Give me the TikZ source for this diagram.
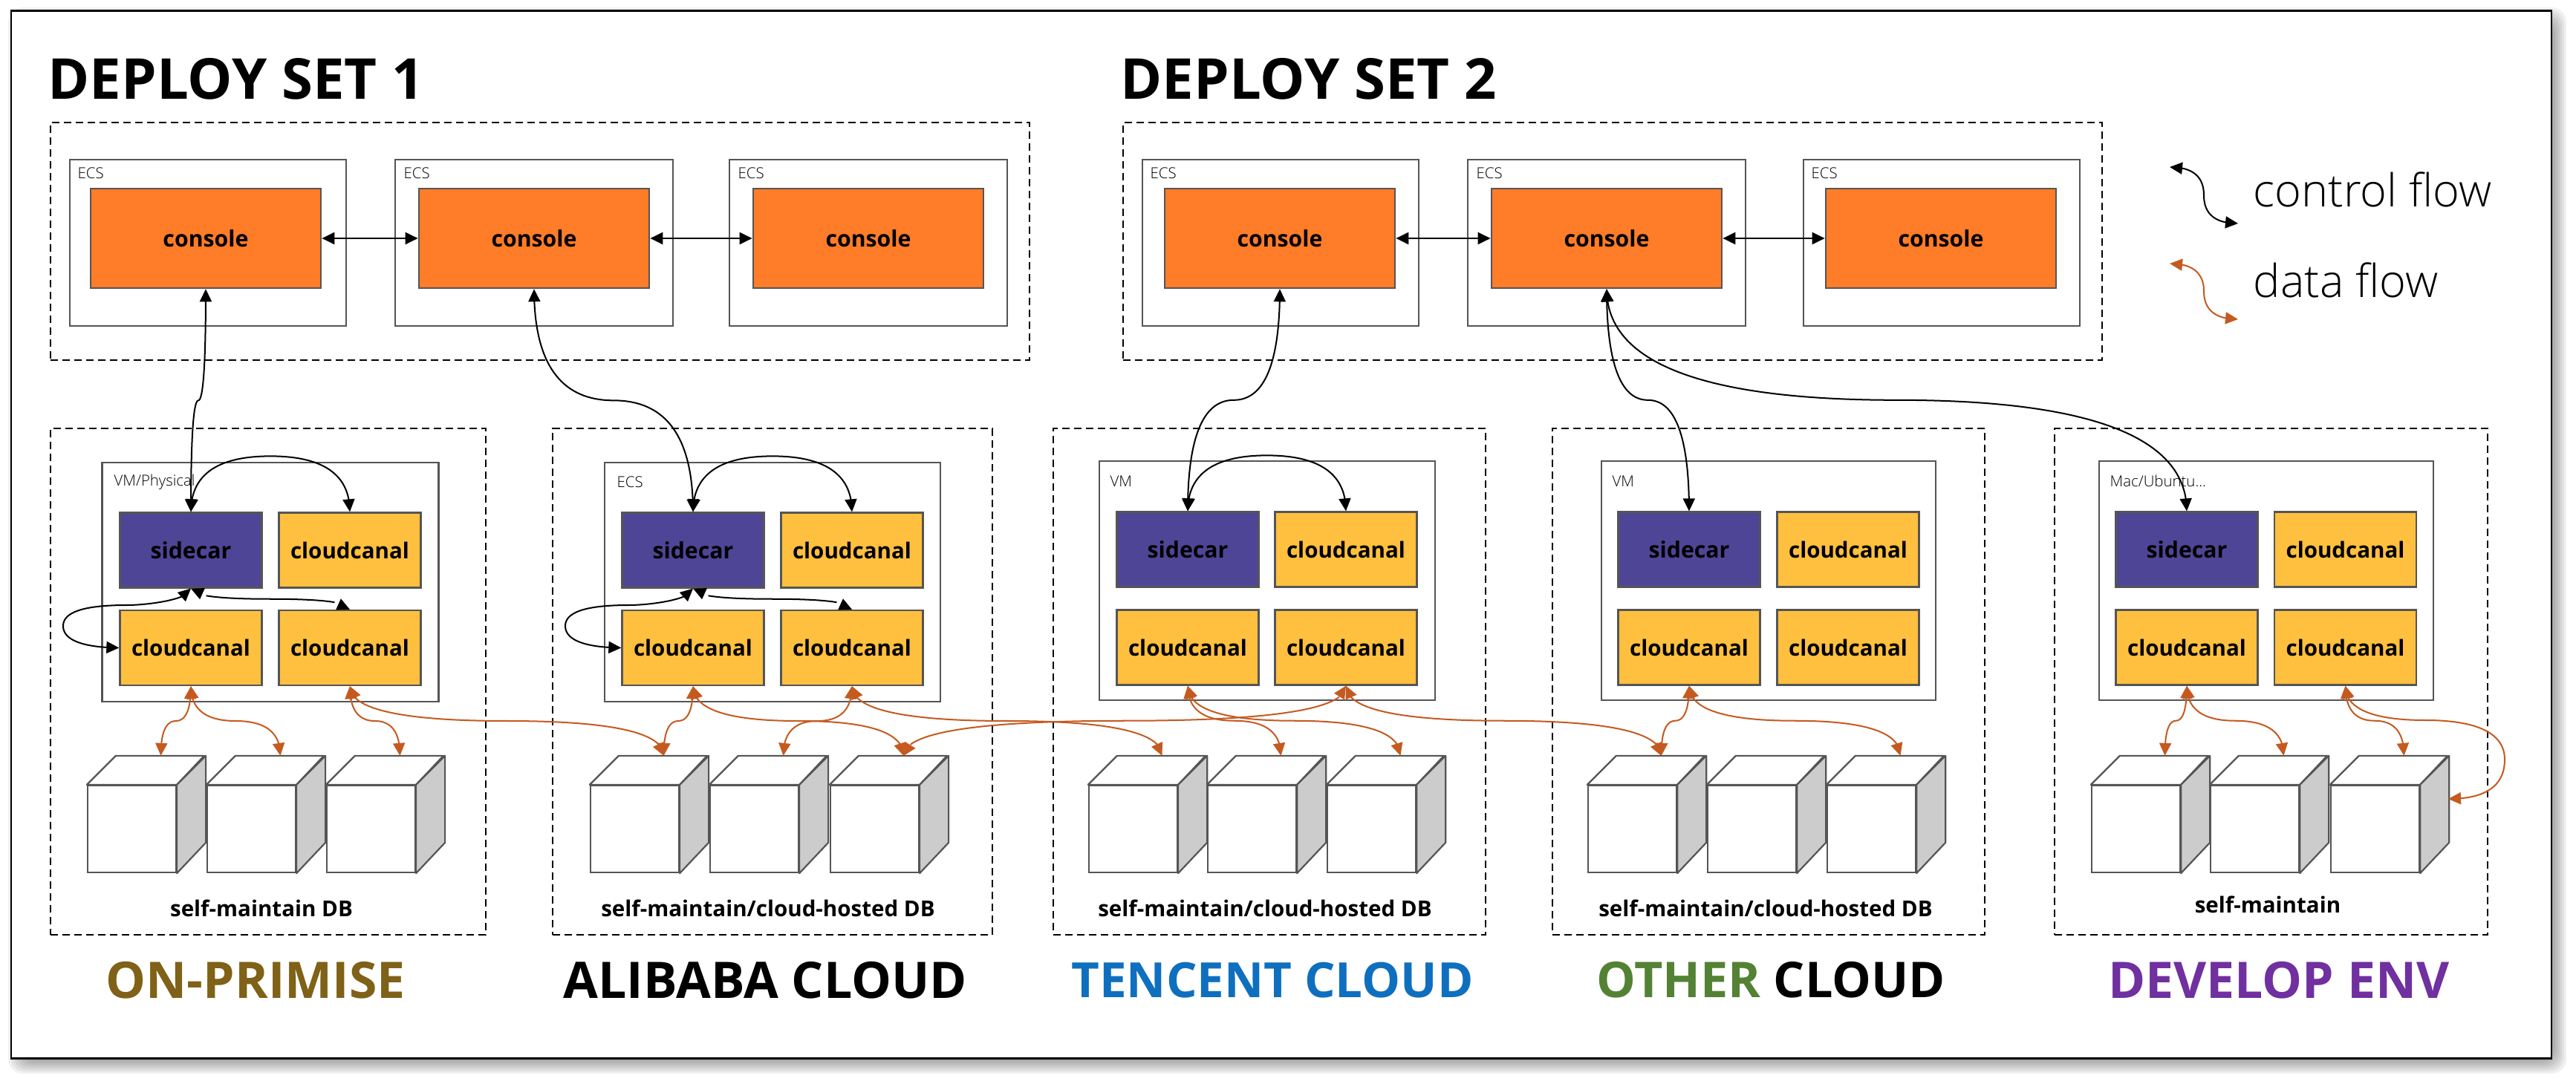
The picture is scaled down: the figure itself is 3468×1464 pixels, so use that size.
\documentclass[tikz,border=0pt]{standalone}
\usepackage{fontspec}
\setmainfont{Open Sans}
\newfontfamily\lightfont{Open Sans Light}
\usetikzlibrary{arrows.meta, bending, calc, positioning}

\definecolor{consoleorange}{HTML}{FF7C29}
\definecolor{canalyellow}{HTML}{FFC03F}
\definecolor{sidecarpurple}{HTML}{4F4596}
\definecolor{edgegray}{HTML}{555555}
\definecolor{dbside}{HTML}{CCCCCC}
\definecolor{dataorange}{HTML}{C55A20}
\definecolor{primisebrown}{HTML}{7F6117}
\definecolor{tencentblue}{HTML}{0F6FBF}
\definecolor{othergreen}{HTML}{548235}
\definecolor{developpurple}{HTML}{7030A0}

\tikzstyle{dashbox}  = [rectangle, draw=black, dash pattern=on .1cm off .06cm, line width=.02cm, inner sep=0pt]
\tikzstyle{hostbox}  = [rectangle, draw=edgegray, line width=.025cm, fill=white, inner sep=0pt]
\tikzstyle{console}  = [rectangle, draw=edgegray, line width=.025cm, fill=consoleorange,
                         minimum width=3.1cm, minimum height=1.34cm, font=\fontsize{8.6}{11}\selectfont\bfseries]
\tikzstyle{sidecar}  = [rectangle, draw=edgegray, line width=.022cm, fill=sidecarpurple,
                         minimum width=1.91cm, minimum height=1.01cm, font=\fontsize{8.6}{11}\selectfont\bfseries]
\tikzstyle{canal}    = [rectangle, draw=edgegray, line width=.022cm, fill=canalyellow,
                         minimum width=1.91cm, minimum height=1.01cm, font=\fontsize{8.4}{11}\selectfont\bfseries]
\tikzstyle{dbfront}  = [rectangle, draw=edgegray, line width=.022cm, fill=white,
                         minimum width=1.19cm, minimum height=1.17cm, inner sep=0pt]
\tikzstyle{dbedge}   = [draw=edgegray, line width=.022cm, line join=round]
\tikzstyle{hostname} = [anchor=west, inner sep=0pt, font=\lightfont\fontsize{5.8}{7}\selectfont]
\tikzstyle{dbname}   = [inner sep=0pt, font=\fontsize{8.4}{10}\selectfont\bfseries]
\tikzstyle{title}    = [anchor=west, inner sep=0pt, font=\fontsize{21.6}{26}\selectfont\bfseries]
\tikzstyle{cloudname}= [inner sep=0pt, font=\fontsize{19.3}{23}\selectfont\bfseries]
\tikzstyle{legend}   = [anchor=west, inner sep=0pt, font=\lightfont\fontsize{17.4}{21}\selectfont]
\tikzstyle{peer}     = [{Triangle[length=.17cm,width=.16cm]}-{Triangle[length=.17cm,width=.16cm]}, line width=.024cm]
\tikzstyle{ctrlflow} = [{Triangle[length=.17cm,width=.16cm]}-{Triangle[length=.17cm,width=.16cm]}, line width=.02cm]
\tikzstyle{dataflow} = [{Triangle[length=.17cm,width=.16cm]}-{Triangle[length=.17cm,width=.16cm]},
                         line width=.02cm, color=dataorange]

% vertical out, through the middle, vertical in; the argument lifts the middle
\tikzset{scurve/.style={to path={let \p1=(\tikztostart), \p2=(\tikztotarget),
      \p3=($(\p1)!0.5!(\p2)+(0,#1)$) in
      .. controls (\x1,{\y1+0.667*(\y3-\y1)}) and ({\x3+0.667*(\x1-\x3)},\y3) .. (\p3)
      .. controls ({\x3+0.667*(\x2-\x3)},\y3) and (\x2,{\y2+0.667*(\y3-\y2)}) .. (\tikztotarget)}},
  scurve/.default=0}

\newcommand{\dbcube}[2]{
  \node[dbfront] (#1) at (#2+59.5,1116.5) {};
  \draw[dbedge, fill=white] (#1.north west) -- ++(39,-39) -- ++(119,0) -- (#1.north east) -- cycle;
  \draw[dbedge, fill=dbside] (#1.north east) -- ++(39,-39) -- ++(0,117) -- (#1.south east) -- cycle;
  \coordinate (#1t) at ($(#1.north)+(39,-39)$);
}

\begin{document}
\begin{tikzpicture}[x=.01cm, y=-.01cm]
  \useasboundingbox (0,0) rectangle (3468,1464);

  % sheet
  \foreach \s in {-14,-11,...,13}
    \fill[black, opacity=.06, rounded corners=.2cm] ({24-\s},{23-\s}) rectangle ({3442+\s},{1433+\s});
  \node[rectangle, draw=black, line width=.024cm, fill=white, minimum width=34.18cm, minimum height=14.1cm, inner sep=0pt]
    (sheet) at (1725,720) {};

  % deploy sets
  \node[title] (set1) at (64,106) {DEPLOY SET 1};
  \node[title] (set2) at (1508,106) {DEPLOY SET 2};
  \node[dashbox, minimum width=13.18cm, minimum height=3.2cm] (ds1) at (727,325) {};
  \node[dashbox, minimum width=13.18cm, minimum height=3.2cm] (ds2) at (2171,325) {};

  \node[hostbox, minimum width=3.72cm, minimum height=2.24cm] (ecs1) at (280,327) {};
  \node[hostbox, minimum width=3.74cm, minimum height=2.24cm] (ecs2) at (719,327) {};
  \node[hostbox, minimum width=3.74cm, minimum height=2.24cm] (ecs3) at (1169,327) {};
  \node[hostbox, minimum width=3.72cm, minimum height=2.24cm] (ecs4) at (1724,327) {};
  \node[hostbox, minimum width=3.74cm, minimum height=2.24cm] (ecs5) at (2163,327) {};
  \node[hostbox, minimum width=3.72cm, minimum height=2.24cm] (ecs6) at (2614,327) {};
  \node[hostname] (ecsname1) at (104,233) {ECS};
  \node[hostname] (ecsname2) at (543,233) {ECS};
  \node[hostname] (ecsname3) at (993,233) {ECS};
  \node[hostname] (ecsname4) at (1548,233) {ECS};
  \node[hostname] (ecsname5) at (1987,233) {ECS};
  \node[hostname] (ecsname6) at (2438,233) {ECS};

  \node[console] (con1) at (277,321) {console};
  \node[console] (con2) at (719,321) {console\hspace{.3cm}};
  \node[console] (con3) at (1169,321) {console\hspace{.34cm}};
  \node[console] (con4) at (1723,321) {console\hspace{.06cm}};
  \node[console] (con5) at (2163,321) {console\hspace{.3cm}};
  \node[console] (con6) at (2613,321) {console\hspace{.34cm}};

  % legend
  \coordinate (ctrlA) at (2921,225);
  \coordinate (ctrlB) at (3013,301);
  \coordinate (dataA) at (2921,355);
  \coordinate (dataB) at (3013,430);
  \node[legend] (ctrlname) at (3033,255) {control flow};
  \node[legend] (dataname) at (3033,377) {data flow};

  % clouds
  \node[dashbox, minimum width=5.86cm, minimum height=6.82cm] (g1) at (361,918) {};
  \node[dashbox, minimum width=5.92cm, minimum height=6.82cm] (g2) at (1040,918) {};
  \node[dashbox, minimum width=5.82cm, minimum height=6.82cm] (g3) at (1709,918) {};
  \node[dashbox, minimum width=5.82cm, minimum height=6.82cm] (g4) at (2381,918) {};
  \node[dashbox, minimum width=5.83cm, minimum height=6.82cm] (g5) at (3057.5,918) {};

  \node[hostbox, minimum width=4.53cm, minimum height=3.22cm] (host1) at (364,784) {};
  \node[hostbox, minimum width=4.52cm, minimum height=3.22cm] (host2) at (1040,784) {};
  \node[hostbox, minimum width=4.52cm, minimum height=3.22cm] (host3) at (1706,782) {};
  \node[hostbox, minimum width=4.5cm, minimum height=3.22cm] (host4) at (2381,782) {};
  \node[hostbox, minimum width=4.5cm, minimum height=3.22cm] (host5) at (3051,782) {};
  \node[hostname] (hostname1) at (153,649) {VM/Physical};
  \node[hostname] (hostname2) at (830,649) {ECS};
  \node[hostname] (hostname3) at (1494,648) {VM};
  \node[hostname] (hostname4) at (2170,648) {VM};
  \node[hostname] (hostname5) at (2840,648) {Mac/Ubuntu...};

  \node[sidecar] (s1) at (257,741) {sidecar\hspace{.1cm}};
  \node[canal] (c1tr) at (471,741) {cloudcanal};
  \node[canal] (c1bl) at (257,872.5) {cloudcanal};
  \node[canal] (c1br) at (471,872.5) {cloudcanal};

  \node[sidecar] (s2) at (933,741) {sidecar\hspace{.1cm}};
  \node[canal] (c2tr) at (1147,741) {cloudcanal};
  \node[canal] (c2bl) at (933,872.5) {cloudcanal};
  \node[canal] (c2br) at (1147,872.5) {cloudcanal};

  \node[sidecar] (s3) at (1599,740) {sidecar\hspace{.1cm}};
  \node[canal] (c3tr) at (1812,740) {cloudcanal};
  \node[canal] (c3bl) at (1599,872) {cloudcanal};
  \node[canal] (c3br) at (1812,872) {cloudcanal};

  \node[sidecar] (s4) at (2274,740) {sidecar\hspace{.1cm}};
  \node[canal] (c4tr) at (2488,740) {cloudcanal};
  \node[canal] (c4bl) at (2274,872) {cloudcanal};
  \node[canal] (c4br) at (2488,872) {cloudcanal};

  \node[sidecar] (s5) at (2944,740) {sidecar\hspace{.1cm}};
  \node[canal] (c5tr) at (3157.5,740) {cloudcanal};
  \node[canal] (c5bl) at (2944,872) {cloudcanal};
  \node[canal] (c5br) at (3157.5,872) {cloudcanal};

  \dbcube{d11}{118}
  \dbcube{d12}{279}
  \dbcube{d13}{440}
  \dbcube{d21}{795}
  \dbcube{d22}{956}
  \dbcube{d23}{1118}
  \dbcube{d31}{1466}
  \dbcube{d32}{1626}
  \dbcube{d33}{1787}
  \dbcube{d41}{2138}
  \dbcube{d42}{2299}
  \dbcube{d43}{2460}
  \dbcube{d51}{2816}
  \dbcube{d52}{2976}
  \dbcube{d53}{3138}
  \coordinate (d53e) at (3296,1076);

  \node[dbname] (db1) at (352,1223) {self-maintain DB};
  \node[dbname] (db2) at (1034,1223) {self-maintain/cloud-hosted DB};
  \node[dbname] (db3) at (1703,1223) {self-maintain/cloud-hosted DB};
  \node[dbname] (db4) at (2377,1223) {self-maintain/cloud-hosted DB};
  \node[dbname] (db5) at (3053,1218) {self-maintain};

  \node[cloudname, text=primisebrown] (cloud1) at (344,1320) {ON-PRIMISE};
  \node[cloudname] (cloud2) at (1030,1320) {ALIBABA CLOUD};
  \node[cloudname, text=tencentblue, font=\fontsize{18.6}{23}\selectfont\bfseries] (cloud3) at (1713,1320) {TENCENT CLOUD};
  \node[cloudname, font=\fontsize{18.9}{23}\selectfont\bfseries] (cloud4) at (2384,1320) {\textcolor{othergreen}{OTHER} CLOUD};
  \node[cloudname, text=developpurple] (cloud5) at (3068,1320) {DEVELOP ENV};

  % control flow
  \draw[peer] (con1) -- (con2);
  \draw[peer] (con2) -- (con3);
  \draw[peer] (con4) -- (con5);
  \draw[peer] (con5) -- (con6);

  \draw[ctrlflow] (con1.south) to[scurve] (s1.north);
  \draw[ctrlflow] (con2.south) to[scurve] (s2.north);
  \draw[ctrlflow] (con4.south) to[scurve] (s3.north);
  \draw[ctrlflow] (con5.south) to[scurve] (s4.north);
  \draw[ctrlflow] (con5.south) to[scurve] (s5.north);

  \draw[ctrlflow] (s1.north) to[scurve=-75] (c1tr.north);
  \draw[ctrlflow] (s2.north) to[scurve=-75] (c2tr.north);
  \draw[ctrlflow] (s3.north) to[scurve=-75] (c3tr.north);

  \draw[ctrlflow] (s1.south) to[scurve] (c1br.north);
  \draw[ctrlflow] (s2.south) to[scurve] (c2br.north);
  \draw[ctrlflow] (s1.south) .. controls (257,807) and (200,815) .. (171,815)
    .. controls (114,815) and (85,824) .. (85,843) .. controls (85,862) and (111,872) .. (c1bl.west);
  \draw[ctrlflow] (s2.south) .. controls (933,807) and (876,815) .. (847,815)
    .. controls (790,815) and (761,824) .. (761,843) .. controls (761,862) and (787,872) .. (c2bl.west);

  \draw[ctrlflow] (ctrlA) .. controls (2952,225) and (2967,238) .. (2967,263)
    .. controls (2967,288) and (2982,301) .. (ctrlB);

  % data flow
  \draw[dataflow] (c1bl.south) to[scurve] (d11t);
  \draw[dataflow] (c1bl.south) to[scurve] (d12t);
  \draw[dataflow] (c1br.south) to[scurve] (d13t);
  \draw[dataflow] (c1br.south) to[scurve] (d21t);

  \draw[dataflow] (c2bl.south) to[scurve] (d21t);
  \draw[dataflow] (c2bl.south) to[scurve] (d23t);
  \draw[dataflow] (c2br.south) to[scurve] (d22t);
  \draw[dataflow] (c2br.south) to[scurve] (d31t);

  \draw[dataflow] (c3bl.south) to[scurve] (d32t);
  \draw[dataflow] (c3bl.south) to[scurve] (d33t);
  \draw[dataflow] (c3br.south) to[scurve] (d23t);
  \draw[dataflow] (c3br.south) to[scurve] (d41t);

  \draw[dataflow] (c4bl.south) to[scurve] (d41t);
  \draw[dataflow] (c4bl.south) to[scurve] (d43t);

  \draw[dataflow] (c5bl.south) to[scurve] (d51t);
  \draw[dataflow] (c5bl.south) to[scurve] (d52t);
  \draw[dataflow] (c5br.south) to[scurve] (d53t);
  \draw[dataflow] (c5br.south) .. controls (3157,954) and (3193,970) .. (3265,970)
    .. controls (3336,970) and (3372,988) .. (3372,1023) .. controls (3372,1058) and (3347,1076) .. (d53e);

  \draw[dataflow] (dataA) .. controls (2952,355) and (2967,368) .. (2967,392)
    .. controls (2967,417) and (2982,430) .. (dataB);
\end{tikzpicture}
\end{document}
